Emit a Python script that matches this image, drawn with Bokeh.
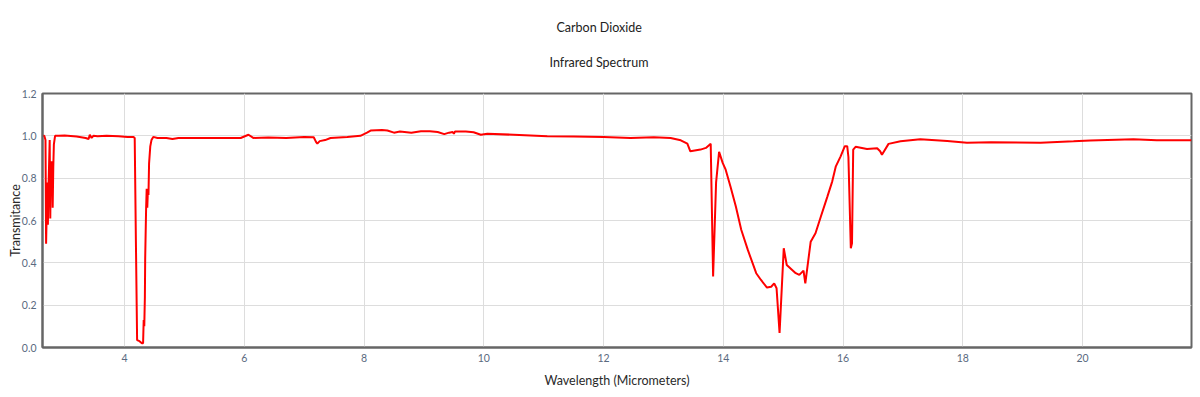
from bokeh.plotting import figure
from bokeh.models import Range1d, FixedTicker, NumeralTickFormatter, Title
from bokeh.embed import file_html
from bokeh.resources import INLINE

wavelength = [
    2.63, 2.66, 2.68, 2.69, 2.71, 2.72, 2.73, 2.75, 2.76, 2.77, 2.78, 2.79, 2.80, 2.81, 2.82, 2.84,
    2.90, 3.00, 3.20, 3.35, 3.40, 3.42, 3.45, 3.48, 3.55, 3.70, 3.90, 4.05, 4.15, 4.17, 4.19, 4.21,
    4.25, 4.29, 4.31, 4.32, 4.33, 4.34, 4.345, 4.36, 4.37, 4.38, 4.39, 4.40, 4.41, 4.43, 4.45, 4.48,
    4.55, 4.70, 4.80, 4.90, 5.00, 5.50, 5.94, 6.07, 6.15, 6.40, 6.70, 7.00, 7.16, 7.20, 7.22, 7.26,
    7.35, 7.44, 7.72, 7.94, 8.05, 8.11, 8.30, 8.39, 8.50, 8.60, 8.79, 8.95, 9.10, 9.23, 9.34, 9.42,
    9.48, 9.50, 9.52, 9.70, 9.83, 9.95, 10.06, 10.50, 11.06, 11.50, 12.00, 12.45, 12.84, 13.12, 13.29,
    13.40, 13.45, 13.62, 13.71, 13.79, 13.83, 13.88, 13.93, 13.99, 14.04, 14.12, 14.21, 14.30, 14.41,
    14.55, 14.63, 14.73, 14.80, 14.85, 14.89, 14.94, 15.01, 15.06, 15.21, 15.27, 15.34, 15.37, 15.46,
    15.54, 15.63, 15.74, 15.82, 15.88, 15.96, 16.03, 16.07, 16.09, 16.13, 16.15, 16.17, 16.21, 16.40,
    16.57, 16.62, 16.65, 16.76, 16.96, 17.29, 17.74, 18.07, 18.47, 19.30, 19.85, 20.13, 20.85, 21.24,
    21.82,
]
transmittance = [
    1.00, 1.00, 0.98, 0.49, 0.78, 0.58, 0.75, 0.98, 0.61, 0.88, 0.80, 0.88, 0.66, 0.85, 0.96, 1.00,
    1.00, 1.002, 0.997, 0.99, 0.985, 1.005, 0.99, 1.00, 0.998, 1.00, 0.998, 0.995, 0.995, 0.99, 0.50, 0.035,
    0.03, 0.02, 0.02, 0.13, 0.10, 0.24, 0.42, 0.65, 0.75, 0.66, 0.74, 0.72, 0.87, 0.95, 0.98, 0.995,
    0.99, 0.99, 0.985, 0.99, 0.99, 0.99, 0.99, 1.005, 0.99, 0.992, 0.99, 0.995, 0.993, 0.97, 0.963, 0.975,
    0.98, 0.99, 0.995, 1.00, 1.015, 1.025, 1.027, 1.025, 1.015, 1.02, 1.015, 1.022, 1.022, 1.018, 1.008, 1.015,
    1.018, 1.01, 1.02, 1.02, 1.017, 1.005, 1.01, 1.005, 0.998, 0.997, 0.995, 0.99, 0.993, 0.99, 0.979,
    0.963, 0.927, 0.935, 0.943, 0.963, 0.335, 0.78, 0.924, 0.872, 0.84, 0.761, 0.666, 0.556, 0.461,
    0.351, 0.319, 0.283, 0.287, 0.303, 0.28, 0.069, 0.469, 0.39, 0.351, 0.343, 0.363, 0.303, 0.50,
    0.54, 0.619, 0.714, 0.785, 0.856, 0.903, 0.951, 0.951, 0.90, 0.469, 0.493, 0.935, 0.948, 0.938,
    0.941, 0.927, 0.911, 0.962, 0.974, 0.984, 0.976, 0.967, 0.97, 0.967, 0.974, 0.978, 0.984, 0.979,
    0.979,
]
x_ticks = [4, 6, 8, 10, 12, 14, 16, 18, 20]
y_ticks = [0.0, 0.2, 0.4, 0.6, 0.8, 1.0, 1.2]

FONT = "Lato"

p = figure(width=1200, height=397, output_backend="svg", toolbar_location=None,
           x_range=Range1d(2.63, 21.82), y_range=Range1d(0, 1.2),
           min_border_left=42, min_border_right=9, min_border_top=93, min_border_bottom=50)

p.line(wavelength, transmittance, line_color="#ff0000", line_width=2)

p.add_layout(Title(text="Infrared Spectrum", align="left", text_font=FONT, text_font_size="12.5px",
                   text_font_style="normal", text_color="#222222", offset=507, standoff=48), "above")
p.add_layout(Title(text="Carbon Dioxide", align="left", text_font=FONT, text_font_size="12.5px",
                   text_font_style="normal", text_color="#222222", offset=514, standoff=-13), "above")

p.outline_line_color = "#666666"
p.outline_line_width = 2
p.outline_line_alpha = 1

for ax in (p.xaxis[0], p.yaxis[0]):
    ax.axis_line_color = "#666666"
    ax.axis_line_width = 2
    ax.major_tick_line_color = None
    ax.minor_tick_line_color = None
    ax.major_label_text_font = FONT
    ax.major_label_text_font_size = "10.5px"
    ax.major_label_text_color = "#5a6a80"
    ax.axis_label_text_font = FONT
    ax.axis_label_text_font_size = "12.5px"
    ax.axis_label_text_font_style = "normal"
    ax.axis_label_text_color = "#2a2a2a"

p.xaxis.ticker = FixedTicker(ticks=x_ticks)
p.yaxis.ticker = FixedTicker(ticks=y_ticks)
p.yaxis.formatter = NumeralTickFormatter(format="0.0")
p.xaxis.axis_label = "Wavelength (Micrometers)"
p.yaxis.axis_label = "Transmitance"
p.xaxis.major_label_standoff = 0
p.xaxis.axis_label_standoff = 8
p.yaxis.major_label_standoff = 0
p.yaxis.axis_label_standoff = -4

p.xgrid.grid_line_color = "#dddddd"
p.ygrid.grid_line_color = "#dddddd"
p.grid.grid_line_width = 1

open("out.html", "w").write(file_html(p, INLINE))
